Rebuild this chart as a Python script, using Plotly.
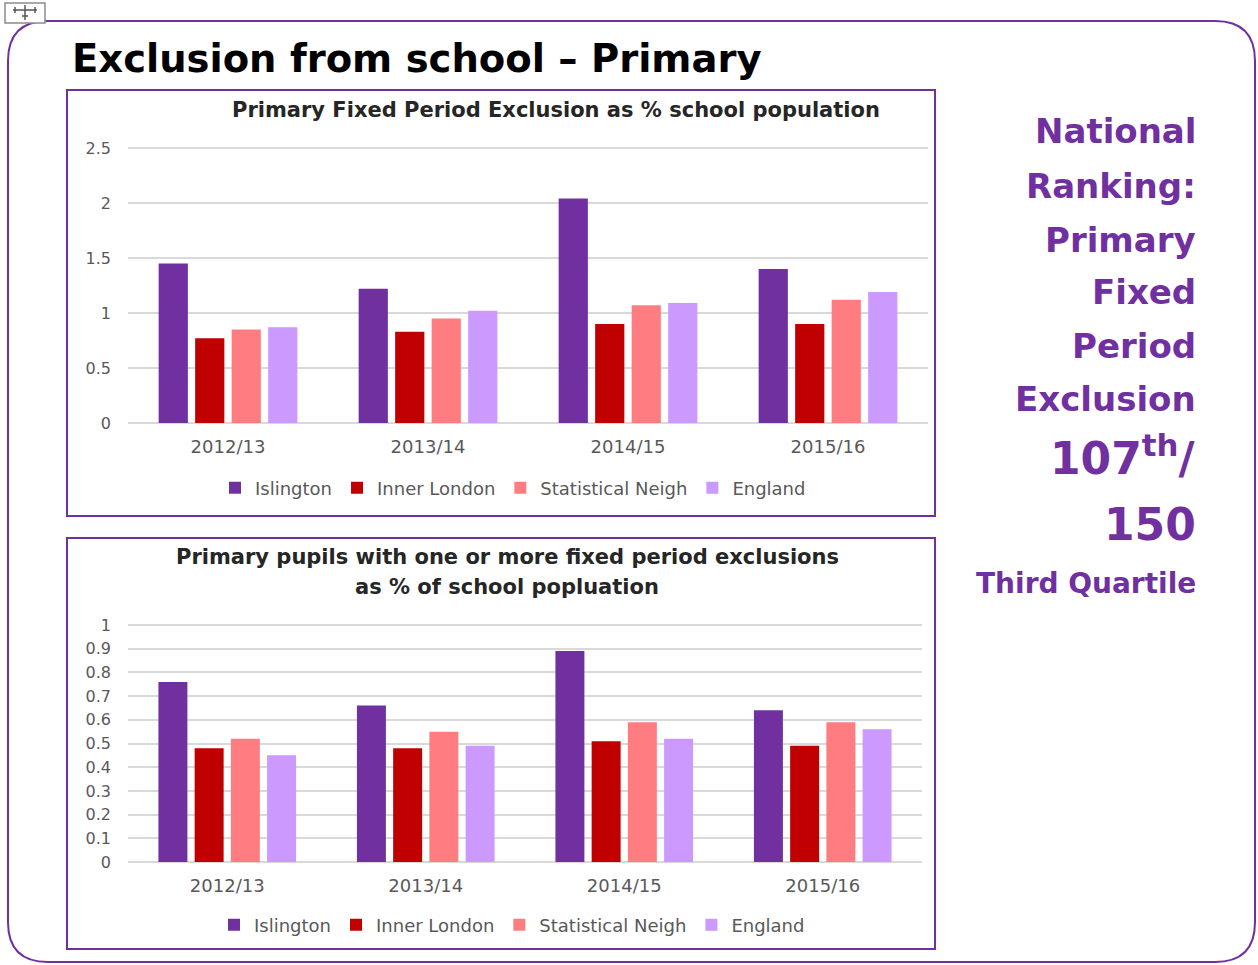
import plotly.graph_objects as go

W, H = 1258, 965

years = ["2012/13", "2013/14", "2014/15", "2015/16"]
series_names = ["Islington", "Inner London", "Statistical Neigh", "England"]
series_colors = ["#7030A0", "#C00000", "#FF7C80", "#CC99FF"]

# Chart 1: Primary Fixed Period Exclusion as % school population
fpe_islington = [1.45, 1.22, 2.04, 1.40]
fpe_inner_london = [0.77, 0.83, 0.90, 0.90]
fpe_stat_neigh = [0.85, 0.95, 1.07, 1.12]
fpe_england = [0.87, 1.02, 1.09, 1.19]

# Chart 2: Primary pupils with one or more fixed period exclusions as % of school population
pup_islington = [0.76, 0.66, 0.89, 0.64]
pup_inner_london = [0.48, 0.48, 0.51, 0.49]
pup_stat_neigh = [0.52, 0.55, 0.59, 0.59]
pup_england = [0.45, 0.49, 0.52, 0.56]

chart1 = [fpe_islington, fpe_inner_london, fpe_stat_neigh, fpe_england]
chart2 = [pup_islington, pup_inner_london, pup_stat_neigh, pup_england]

ranking_lines = ["National", "Ranking:", "Primary", "Fixed", "Period", "Exclusion"]
rank_text = "107<sup>th</sup>/"
rank_total = "150"
quartile_text = "Third Quartile"


def px(x):
    return x / W


def py(y):
    return 1 - y / H


FONT = "DejaVu Sans"
PURPLE = "#7030A0"
GREY_TXT = "#595959"
GRID = "#D9D9D9"

fig = go.Figure()

for name, color, vals in zip(series_names, series_colors, chart1):
    fig.add_trace(go.Bar(x=years, y=vals, name=name, marker=dict(color=color, line=dict(width=0)),
                         xaxis="x", yaxis="y", legend="legend", hoverinfo="x+y+name"))
for name, color, vals in zip(series_names, series_colors, chart2):
    fig.add_trace(go.Bar(x=years, y=vals, name=name, marker=dict(color=color, line=dict(width=0)),
                         xaxis="x2", yaxis="y2", legend="legend2", hoverinfo="x+y+name"))

axis_common_x = dict(type="category", showgrid=False, ticks="", showline=False, zeroline=False,
                     automargin=False,
                     tickfont=dict(family=FONT, size=18, color=GREY_TXT), ticklabelstandoff=11)
axis_common_y = dict(showgrid=True, gridcolor=GRID, gridwidth=1.5, zeroline=True, zerolinecolor=GRID,
                     zerolinewidth=1.5, showline=False, ticks="", automargin=False,
                     tickfont=dict(family=FONT, size=16, color=GREY_TXT), ticklabelstandoff=16)

legend_common = dict(orientation="h", xanchor="center", yanchor="middle",
                     font=dict(family=FONT, size=18, color=GREY_TXT), bgcolor="rgba(0,0,0,0)",
                     itemwidth=30, tracegroupgap=0)

shapes = []


def rect(x0, y0, x1, y1, color, width=2, fill="rgba(0,0,0,0)"):
    shapes.append(dict(type="rect", xref="paper", yref="paper", x0=px(x0), x1=px(x1), y0=py(y0), y1=py(y1),
                       line=dict(color=color, width=width), fillcolor=fill, layer="below"))


def rounded_path(x0, y0, x1, y1, r):
    pts = [
        ("M", [(x0 + r, y0)]), ("L", [(x1 - r, y0)]), ("Q", [(x1, y0), (x1, y0 + r)]),
        ("L", [(x1, y1 - r)]), ("Q", [(x1, y1), (x1 - r, y1)]), ("L", [(x0 + r, y1)]),
        ("Q", [(x0, y1), (x0, y1 - r)]), ("L", [(x0, y0 + r)]), ("Q", [(x0, y0), (x0 + r, y0)]),
    ]
    s = ""
    for cmd, coords in pts:
        s += cmd + " ".join(f"{px(a):.5f},{py(b):.5f}" for a, b in coords) + " "
    return s + "Z"


# outer rounded frame
shapes.append(dict(type="path", xref="paper", yref="paper", path=rounded_path(8, 21, 1255, 962, 40),
                   line=dict(color=PURPLE, width=2), layer="below"))
# chart boxes
rect(67, 90, 935, 516, PURPLE, 2, "white")
rect(67, 538, 935, 949, PURPLE, 2, "white")
# small move icon
rect(5, 3, 45, 23, "#8C8C8C", 1.5, "white")
for (a, b, c, d) in [(13, 10, 37, 10), (25, 5, 25, 20), (15, 7, 15, 13), (35, 7, 35, 13), (22, 16, 28, 16)]:
    shapes.append(dict(type="line", xref="paper", yref="paper", x0=px(a), y0=py(b), x1=px(c), y1=py(d),
                       line=dict(color="#555555", width=1.5)))

annotations = []


def text(x, y, s, size, color="black", bold=True, xanchor="center", yanchor="middle", family=FONT):
    annotations.append(dict(xref="paper", yref="paper", x=px(x), y=py(y), text=(f"<b>{s}</b>" if bold else s),
                            showarrow=False, xanchor=xanchor, yanchor=yanchor,
                            font=dict(family=family, size=size, color=color)))


text(70, 59, "Exclusion from school – Primary", 38.5, "black", True, xanchor="left")
text(556, 110, "Primary Fixed Period Exclusion as % school population", 21, "#262626")
text(507, 557, "Primary pupils with one or more fixed period exclusions", 21, "#262626")
text(507, 587, "as % of school popluation", 21, "#262626")

rank_y = [131, 186, 240, 292, 346, 399]
for s, yy in zip(ranking_lines, rank_y):
    text(1198, yy, s, 34, PURPLE, True, xanchor="right")
text(1198, 455, rank_text, 44, PURPLE, True, xanchor="right")
text(1198, 524, rank_total, 44, PURPLE, True, xanchor="right")
text(1198, 583, quartile_text, 28, PURPLE, True, xanchor="right")

# y-ranges extend slightly beyond the top tick so its gridline is drawn
y1_top, y2_top = 2.52, 1.01
fig.update_layout(
    width=W, height=H, margin=dict(l=0, r=0, t=0, b=0, pad=0, autoexpand=False),
    paper_bgcolor="white", plot_bgcolor="rgba(0,0,0,0)",
    font=dict(family=FONT),
    barmode="group", bargap=0.27, bargroupgap=0.2,
    xaxis=dict(domain=[px(128), px(928)], anchor="y", **axis_common_x),
    yaxis=dict(domain=[py(423), py(423 - 110 * y1_top)], anchor="x", range=[0, y1_top], dtick=0.5,
               **axis_common_y),
    xaxis2=dict(domain=[px(128), px(922)], anchor="y2", **axis_common_x),
    yaxis2=dict(domain=[py(862), py(862 - 237 * y2_top)], anchor="x2", range=[0, y2_top], dtick=0.1,
                **axis_common_y),
    legend=dict(x=px(513), y=py(488), **legend_common),
    legend2=dict(x=px(512), y=py(925), **legend_common),
    shapes=shapes, annotations=annotations,
    showlegend=True,
)

fig.write_html("out.html")
